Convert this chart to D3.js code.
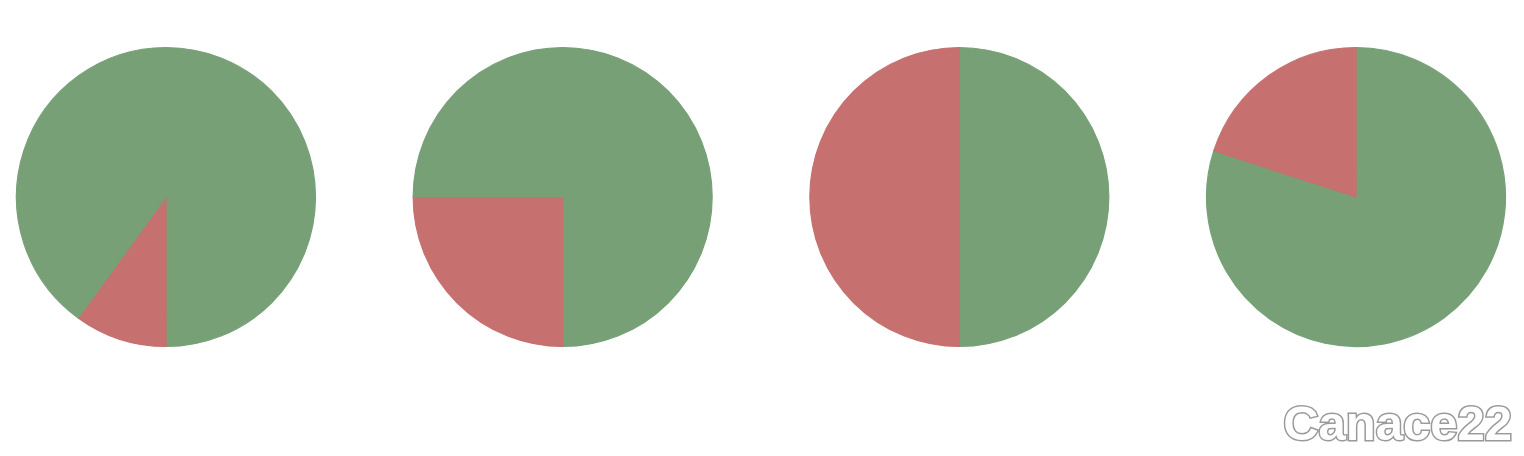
<!DOCTYPE html>
<html>
<head>
<meta charset="utf-8">
<script src="https://cdn.jsdelivr.net/npm/d3@7"></script>
<style>
  html, body { margin: 0; padding: 0; background: #fff; }
</style>
</head>
<body>
<div id="chart"></div>
<script>
// each pie: slice values clockwise from 12 o'clock, colours alternate green / red
var pies = ["pie1", "pie2", "pie3", "pie4"];
var sliceValues = [[50, 10, 40], [50, 25, 25], [50, 50], [80, 20]];
var sliceKinds = ["ok", "bad", "ok"];
var colors = { ok: "#77a077", bad: "#c6706f" };

var width = 1524, height = 456, radius = 150;

var svg = d3.select("#chart").append("svg").attr("width", width).attr("height", height);

var x = d3.scalePoint().domain(pies).range([166, 1356]);

var pie = d3.pie().sort(null).value(function(d) { return d; });
var arc = d3.arc().innerRadius(0).outerRadius(radius - 0.5);

var groups = svg.selectAll("g.pie")
  .data(pies).enter().append("g")
  .attr("class", "pie")
  .attr("transform", function(d) { return "translate(" + x(d) + ",197)"; });

groups.selectAll("path")
  .data(function(d, i) { return pie(sliceValues[i]); })
  .enter().append("path")
  .attr("d", arc)
  .style("fill", function(d) { return colors[sliceKinds[d.index]]; })
  .style("stroke", function(d) { return colors[sliceKinds[d.index]]; })
  .style("stroke-width", 1.2)
  .style("stroke-linejoin", "round");

// 水印
svg.append("text")
  .attr("x", 1512).attr("y", 440)
  .attr("text-anchor", "end")
  .style("font-family", "'Liberation Sans', Arial, sans-serif")
  .style("font-weight", "bold")
  .style("font-size", "49px")
  .style("fill", "#fff")
  .style("stroke", "#9a9a9a")
  .style("stroke-width", 3)
  .style("paint-order", "stroke")
  .text("Canace22");
</script>
</body>
</html>
